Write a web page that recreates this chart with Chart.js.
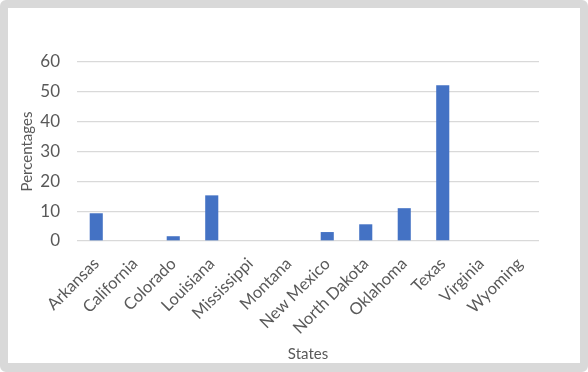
<!DOCTYPE html>
<html>
<head>
<meta charset="utf-8">
<script src="https://cdn.jsdelivr.net/npm/chart.js@4"></script>
<style>
    html, body { margin: 0; padding: 0; background: #fff; }
    #frame {
        width: 588px;
        height: 372px;
        box-sizing: border-box;
        border: 8px solid #d9d9d9;
        border-bottom-width: 9px;
        border-radius: 6px;
        background: #fff;
    }
    #chart { display: block; }
</style>
</head>
<body>
<div id="frame">
    <canvas id="chart" width="572" height="355"></canvas>
</div>
<script>
const states = ['Arkansas', 'California', 'Colorado', 'Louisiana', 'Mississippi', 'Montana',
    'New Mexico', 'North Dakota', 'Oklahoma', 'Texas', 'Virginia', 'Wyoming'];
const percentages = [9.3, 0, 1.6, 15.3, 0, 0, 3.0, 5.6, 11.0, 52.2, 0, 0];
const yTicks = [0, 10, 20, 30, 40, 50, 60];

const textColor = '#595959';
const fontFamily = "Lato, 'Open Sans', sans-serif";

const ctx = document.getElementById('chart').getContext('2d');
new Chart(ctx, {
    type: 'bar',
    data: {
        labels: states,
        datasets: [{
            label: 'Percentages',
            data: percentages,
            backgroundColor: '#4472c4',
            borderWidth: 0,
            barPercentage: 0.34,
            categoryPercentage: 1
        }]
    },
    options: {
        responsive: false,
        animation: false,
        layout: {
            padding: { top: 54, right: 41, left: 0, bottom: 0 }
        },
        plugins: {
            legend: { display: false },
            tooltip: { enabled: false }
        },
        scales: {
            x: {
                grid: { display: false },
                border: { display: false },
                afterFit: axis => { axis.height = 122; },
                ticks: {
                    color: textColor,
                    font: { family: fontFamily, size: 16.5 },
                    minRotation: 45,
                    maxRotation: 45,
                    autoSkip: false,
                    padding: 5
                },
                title: {
                    display: true,
                    text: 'States',
                    color: textColor,
                    font: { family: fontFamily, size: 15 },
                    padding: { top: 0, bottom: 0 }
                }
            },
            y: {
                min: 0,
                max: 60,
                afterBuildTicks: axis => {
                    axis.ticks = yTicks.map(v => ({ value: v }));
                },
                afterFit: axis => { axis.width = 69; },
                grid: { color: '#d9d9d9', lineWidth: 1.3, drawTicks: false },
                border: { display: false },
                ticks: {
                    color: textColor,
                    font: { family: fontFamily, size: 17 },
                    padding: 17
                },
                title: {
                    display: true,
                    text: 'Percentages',
                    color: textColor,
                    font: { family: fontFamily, size: 15 },
                    padding: { top: 10, bottom: 0 }
                }
            }
        }
    }
});
</script>
</body>
</html>
